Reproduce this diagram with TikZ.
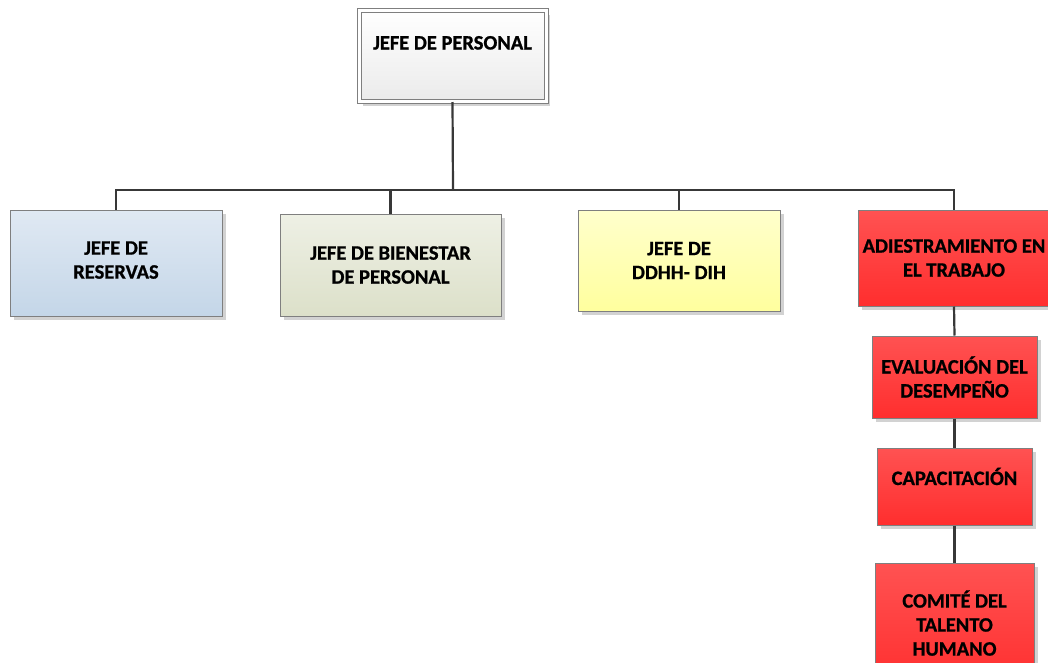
\documentclass[tikz,border=0pt]{standalone}
\usepackage{fontspec}
\setmainfont{Carlito}[BoldFeatures={FakeBold=0.9}]
\usetikzlibrary{shadows}
\definecolor{linec}{HTML}{383838}
\definecolor{bordc}{HTML}{7F7F7F}
\definecolor{blueA}{HTML}{E0E9F3}
\definecolor{blueB}{HTML}{C4D6E8}
\definecolor{oliveA}{HTML}{EEF0E5}
\definecolor{oliveB}{HTML}{DCE0C9}
\definecolor{yelA}{HTML}{FFFFCC}
\definecolor{yelB}{HTML}{FFFF9E}
\definecolor{redA}{HTML}{FF5252}
\definecolor{redB}{HTML}{FF2E2E}
\tikzset{
  x=1pt,y=1pt,
  orgbox/.style={draw=bordc, line width=1pt, inner sep=0pt, align=center,
    font=\bfseries\fontsize{20.5}{24}\selectfont,
    drop shadow={shadow xshift=4pt, shadow yshift=-4pt, fill=black!25, opacity=0.7}},
  topbox/.style={orgbox, top color=white, bottom color=black!8, double=white, double distance=3pt},
  bluebox/.style={orgbox, top color=blueA, bottom color=blueB},
  olivebox/.style={orgbox, top color=oliveA, bottom color=oliveB},
  yellowbox/.style={orgbox, top color=yelA, bottom color=yelB},
  redbox/.style={orgbox, top color=redA, bottom color=redB},
  conn/.style={draw=linec, line width=2.2pt},
}
\begin{document}
\begin{tikzpicture}
\useasboundingbox (0,0) rectangle (1048,-662);
% boxes
\node[topbox, minimum width=187pt, text height=39pt, text depth=52pt] (jp) at (452.5,-56) {JEFE DE PERSONAL};
\node[bluebox, minimum width=212pt, minimum height=106pt] (res) at (116,-263) {JEFE DE\\RESERVAS\\[-18pt]\mbox{}};
\node[olivebox, minimum width=221pt, minimum height=102pt] (bie) at (390.5,-265) {JEFE DE BIENESTAR\\DE PERSONAL};
\node[yellowbox, minimum width=202pt, minimum height=101pt] (dd) at (679,-260.5) {JEFE DE\\DDHH- DIH};
\node[redbox, minimum width=192pt, minimum height=96pt] (adi) at (954,-258) {ADIESTRAMIENTO EN\\EL TRABAJO};
\node[redbox, minimum width=165pt, minimum height=82pt] (eva) at (954.5,-377) {EVALUACIÓN DEL\\DESEMPEÑO};
\node[redbox, minimum width=155pt, text height=37pt, text depth=40pt] (cap) at (954.5,-486.5) {CAPACITACIÓN};
\node[redbox, minimum width=159pt, minimum height=124pt] (com) at (954.5,-625) {COMITÉ DEL\\TALENTO\\HUMANO\\[-20pt]\mbox{}};
% connectors
\coordinate (bus) at (453,-190);
\draw[conn] (jp.south) -- (bus);
\draw[conn] (res.north) |- (bus) -| (adi.north);
\draw[conn] (bie.north) -- (bie.north |- bus);
\draw[conn] (dd.north) -- (dd.north |- bus);
\draw[conn] (adi.south) -- (eva.north);
\draw[conn] (eva.south) -- (cap.north);
\draw[conn] (cap.south) -- (com.north);
\end{tikzpicture}
\end{document}
